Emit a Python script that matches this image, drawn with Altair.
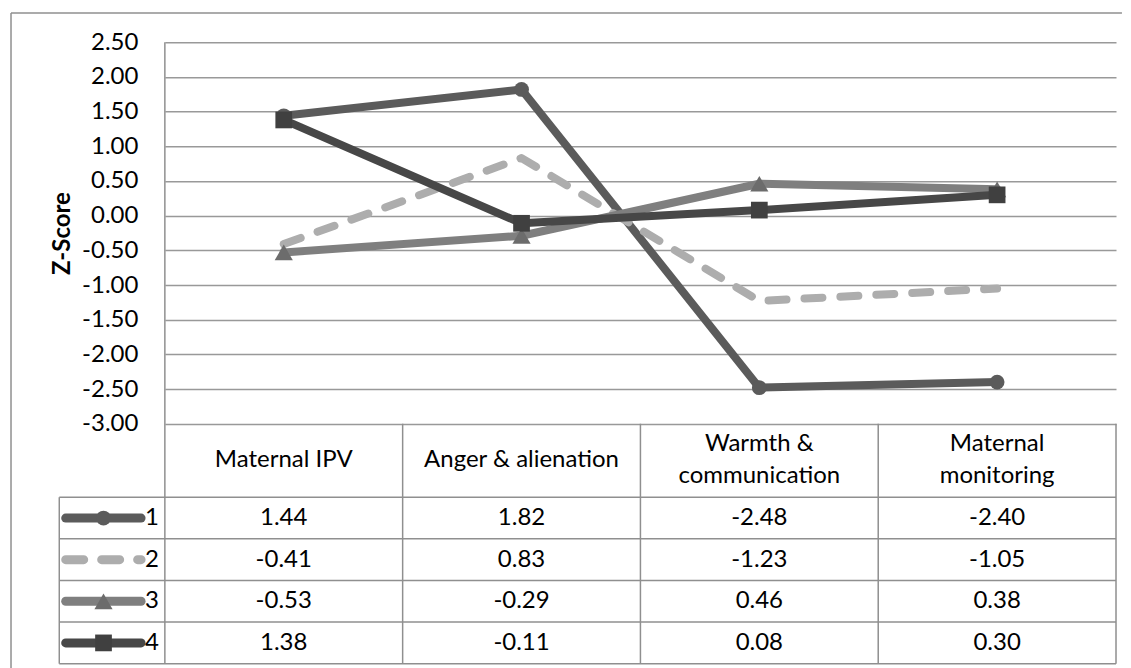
import altair as alt
import pandas as pd

# ---------------- data ----------------
categories = ["Maternal IPV", "Anger & alienation", "Warmth & communication", "Maternal monitoring"]
header_labels = ["Maternal IPV", "Anger & alienation", "Warmth &\ncommunication", "Maternal\nmonitoring"]
series_names = ["1", "2", "3", "4"]
cluster1 = [1.44, 1.82, -2.48, -2.40]
cluster2 = [-0.41, 0.83, -1.23, -1.05]
cluster3 = [-0.53, -0.29, 0.46, 0.38]
cluster4 = [1.38, -0.11, 0.08, 0.30]
y_ticks = [-3.0, -2.5, -2.0, -1.5, -1.0, -0.5, 0.0, 0.5, 1.0, 1.5, 2.0, 2.5]
y_title = "Z-Score"

series_values = [cluster1, cluster2, cluster3, cluster4]

# ---------------- styles ----------------
FONT = "Lato"
FS = 24
LINE_H = 32
line_colors = ["#5b5b5b", "#adadad", "#7f7f7f", "#474747"]
marker_colors = ["#5b5b5b", None, "#6c6c6c", "#404040"]
shapes = ["circle", None, "triangle-up", "square"]
marker_sizes = [220, 0, 330, 280]
dashes = [None, [18, 18], None, None]
GRID = "#999999"
BORDER = "#8f8f8f"

# table geometry in scale units (x: one unit per category column, y: z-score units)
Y_TOP = 2.5
TABLE_TOP = -3.0
HEADER_H = 1.06
ROW_H = 0.6
Y_BOTTOM = TABLE_TOP - HEADER_H - ROW_H * len(series_names)
LEG_LEFT = -0.444
LEG_LINE = (-0.417, -0.1)
LEG_MARK = -0.258
LEG_TEXT = -0.083
OUT_LEFT = -0.647
OUT_RIGHT = 4.025
OUT_TOP = 2.922
OUT_BOTTOM = Y_BOTTOM - 0.07
N = len(categories)

xs = alt.Scale(domain=[0, N], nice=False, zero=False)
ys = alt.Scale(domain=[Y_BOTTOM, Y_TOP], nice=False, zero=False)

yax = alt.Axis(values=y_ticks, grid=True, gridColor=GRID,
               labelExpr="replace(format(datum.value, '.2f'), '\u2212', '-')",
               gridWidth=1.5, domain=False, ticks=False,
               labelFont=FONT, labelFontSize=FS, labelColor="#000000",
               labelPadding=27, title=y_title, titleFont=FONT,
               titleFontSize=FS, titleFontWeight="bold", titleColor="#000000",
               titleX=-95, titleY=191, titleBaseline="alphabetic")


def X(field):
    return alt.X(field, type="quantitative", scale=xs, axis=None)


def Y(field):
    return alt.Y(field, type="quantitative", scale=ys, axis=yax)


def row_center(k):
    return TABLE_TOP - HEADER_H - (k + 0.5) * ROW_H


# long data
rows = []
for si, (name, vals) in enumerate(zip(series_names, series_values)):
    for ci, (cat, v) in enumerate(zip(categories, vals)):
        rows.append({"series": name, "cat": cat, "x": ci + 0.5,
                     "value": v, "row_y": row_center(si), "label": f"{v:.2f}"})
df = pd.DataFrame(rows)

header_df = pd.DataFrame({"x": [i + 0.5 for i in range(N)],
                          "y": [TABLE_TOP - HEADER_H / 2] * N,
                          "label": header_labels,
                          "lines": [h.count("\n") + 1 for h in header_labels]})

legend_df = pd.DataFrame({"series": series_names,
                          "x1": [LEG_LINE[0]] * 4, "x2": [LEG_LINE[1]] * 4,
                          "xm": [LEG_MARK] * 4, "xt": [LEG_TEXT] * 4,
                          "y": [row_center(k) for k in range(4)]})

# table rules (segments) + outer frame
segs = []
hy = TABLE_TOP - HEADER_H
for k in range(len(series_names) + 1):
    yy = hy - k * ROW_H
    segs.append({"x": LEG_LEFT, "x2": N, "y": yy, "y2": yy})
segs.append({"x": LEG_LEFT, "x2": LEG_LEFT, "y": hy, "y2": Y_BOTTOM})
segs.append({"x": 0, "x2": 0, "y": Y_TOP, "y2": Y_BOTTOM})
for i in range(1, N + 1):
    segs.append({"x": i, "x2": i, "y": TABLE_TOP, "y2": Y_BOTTOM})
segs.append({"x": OUT_LEFT, "x2": OUT_RIGHT, "y": OUT_TOP, "y2": OUT_TOP})
segs.append({"x": OUT_LEFT, "x2": OUT_LEFT, "y": OUT_TOP, "y2": OUT_BOTTOM})
seg_df = pd.DataFrame(segs)

layers = []

rules = alt.Chart(seg_df).mark_rule(color=BORDER, strokeWidth=1.5).encode(
    x=X("x"), x2="x2", y=Y("y"), y2="y2")
layers.append(rules)

# series lines and markers (drawn in series order, last on top)
for si, name in enumerate(series_names):
    sub = df[df["series"] == name]
    lkw = dict(strokeWidth=8, strokeCap="round", strokeJoin="round", color=line_colors[si])
    if dashes[si]:
        lkw["strokeDash"] = dashes[si]
    layers.append(alt.Chart(sub).mark_line(**lkw).encode(x=X("x"), y=Y("value")))
    if shapes[si]:
        layers.append(alt.Chart(sub).mark_point(
            shape=shapes[si], size=marker_sizes[si], filled=True, opacity=1,
            color=marker_colors[si], strokeWidth=0).encode(x=X("x"), y=Y("value")))

# header row
for nl in sorted(set(header_df["lines"])):
    sub = header_df[header_df["lines"] == nl]
    layers.append(alt.Chart(sub).mark_text(
        font=FONT, fontSize=FS, lineBreak="\n", lineHeight=LINE_H, baseline="middle",
        align="center", color="#000000", dy=-(nl - 1) * LINE_H / 2).encode(
        x=X("x"), y=Y("y"), text="label:N"))

# values
layers.append(alt.Chart(df).mark_text(font=FONT, fontSize=FS, baseline="middle",
                                      align="center", color="#000000").encode(
    x=X("x"), y=Y("row_y"), text="label:N"))

# legend keys
for si, name in enumerate(series_names):
    sub = legend_df[legend_df["series"] == name]
    lkw = dict(strokeWidth=9, strokeCap="round", color=line_colors[si])
    if dashes[si]:
        lkw["strokeDash"] = dashes[si]
    layers.append(alt.Chart(sub).mark_rule(**lkw).encode(x=X("x1"), x2="x2", y=Y("y")))
    if shapes[si]:
        layers.append(alt.Chart(sub).mark_point(
            shape=shapes[si], size=marker_sizes[si], filled=True, opacity=1,
            color=marker_colors[si], strokeWidth=0).encode(x=X("xm"), y=Y("y")))

layers.append(alt.Chart(legend_df).mark_text(font=FONT, fontSize=FS, baseline="middle",
                                             align="left", color="#000000").encode(
    x=X("xt"), y=Y("y"), text="series:N"))

chart = alt.layer(*layers).properties(
    width=952, height=622,
    padding={"left": 2, "top": 3, "right": 0, "bottom": 0},
    background="#ffffff",
).configure_view(stroke=None)

chart.save("out.html", embed_options={"renderer": "svg", "actions": False})
